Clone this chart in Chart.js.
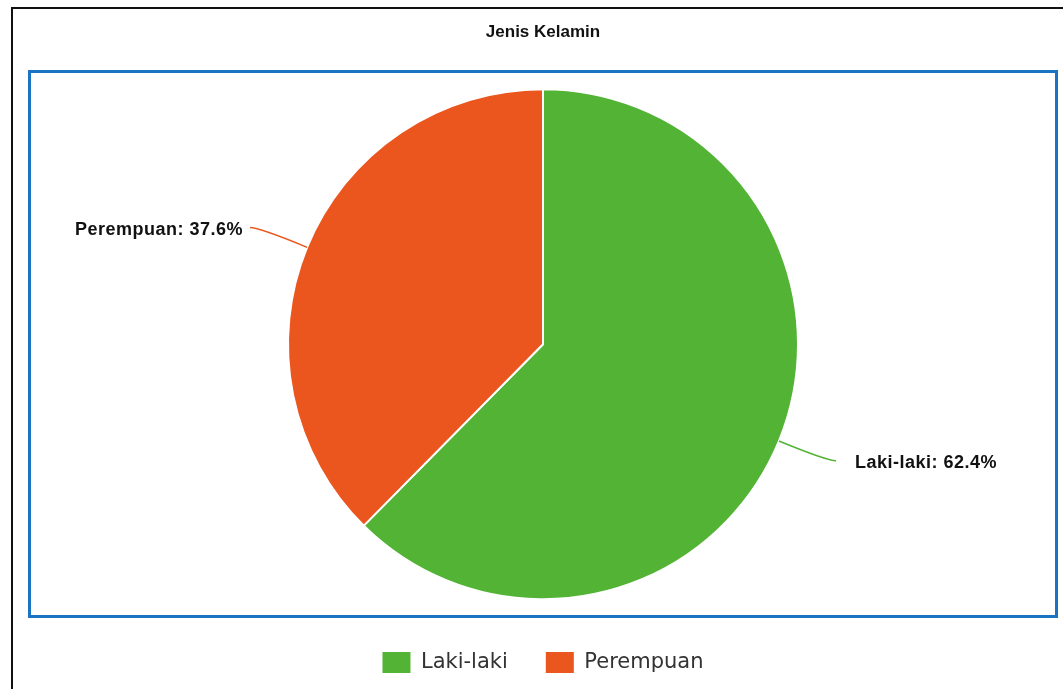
<!DOCTYPE html>
<html>
<head>
<meta charset="utf-8">
<script src="https://cdn.jsdelivr.net/npm/chart.js@4"></script>
<style>
    body { margin: 0; background: #fff; }
    #frame { position: absolute; left: 11px; top: 7px; width: 1100px; height: 750px; border: 2px solid #111; }
    #plotBox { position: absolute; left: 28px; top: 70px; width: 1024px; height: 542px; border: 3px solid #1a74c2; }
    #myChart { position: absolute; left: 0; top: 0; }
</style>
</head>
<body>
<div id="frame"></div>
<div id="plotBox"></div>
<canvas id="myChart" width="1063" height="689"></canvas>
<script>
// =====================
// Data
// =====================
const categories = ['Laki-laki', 'Perempuan'];
const percentages = [62.4, 37.6];
const sliceColors = ['#52b335', '#eb561e'];

// =====================
// Outside labels with curved leader lines
// =====================
const sliceLabels = {
    id: 'sliceLabels',
    afterDatasetsDraw(chart) {
        const ctx = chart.ctx;
        const meta = chart.getDatasetMeta(0);
        meta.data.forEach((arc, i) => {
            const p = arc.getProps(['x', 'y', 'startAngle', 'endAngle', 'outerRadius'], true);
            const mid = (p.startAngle + p.endAngle) / 2;
            const cos = Math.cos(mid);
            const sin = Math.sin(mid);
            const right = cos >= 0;
            const x0 = p.x + cos * p.outerRadius;
            const y0 = p.y + sin * p.outerRadius;
            const cx = x0 + cos * 52;
            const cy = y0 + sin * 52;
            const ex = cx + (right ? 9 : -9);

            ctx.save();
            ctx.strokeStyle = sliceColors[i];
            ctx.lineWidth = 1.5;
            ctx.beginPath();
            ctx.moveTo(x0, y0);
            ctx.quadraticCurveTo(cx, cy, ex, cy);
            ctx.stroke();

            ctx.fillStyle = '#111';
            ctx.font = 'bold 18px "Liberation Sans", Arial, sans-serif';
            ctx.letterSpacing = '0.5px';
            ctx.textBaseline = 'middle';
            ctx.textAlign = right ? 'left' : 'right';
            const text = `${categories[i]}: ${percentages[i]}%`;
            ctx.fillText(text, right ? ex + 19 : ex - 7, cy + 2);
            ctx.restore();
        });
    }
};

// =====================
// Chart
// =====================
function generatePieChart() {
    const ctx = document.getElementById('myChart').getContext('2d');
    const defaultLabels = Chart.overrides.pie.plugins.legend.labels.generateLabels;

    return new Chart(ctx, {
        type: 'pie',
        data: {
            labels: categories,
            datasets: [{
                data: percentages,
                backgroundColor: sliceColors,
                borderColor: '#ffffff',
                borderWidth: 2,
                radius: 255,
                hoverOffset: 0
            }]
        },
        plugins: [sliceLabels],
        options: {
            responsive: false,
            animation: false,
            layout: {
                padding: { left: 23, right: 0, top: 0, bottom: 6 }
            },
            plugins: {
                title: {
                    display: true,
                    text: 'Jenis Kelamin',
                    color: '#111',
                    font: { family: '"Liberation Sans", Arial, sans-serif', size: 17, weight: 'bold' },
                    padding: { top: 22, bottom: 32 }
                },
                legend: {
                    position: 'bottom',
                    labels: {
                        boxWidth: 28,
                        boxHeight: 21,
                        padding: 38,
                        color: '#333',
                        font: { family: '"DejaVu Sans", sans-serif', size: 21 },
                        generateLabels: (chart) => defaultLabels(chart).map(item => {
                            item.lineWidth = 0;
                            item.strokeStyle = item.fillStyle;
                            return item;
                        })
                    }
                },
                tooltip: { enabled: false }
            }
        }
    });
}

window.onload = generatePieChart;
</script>
</body>
</html>
